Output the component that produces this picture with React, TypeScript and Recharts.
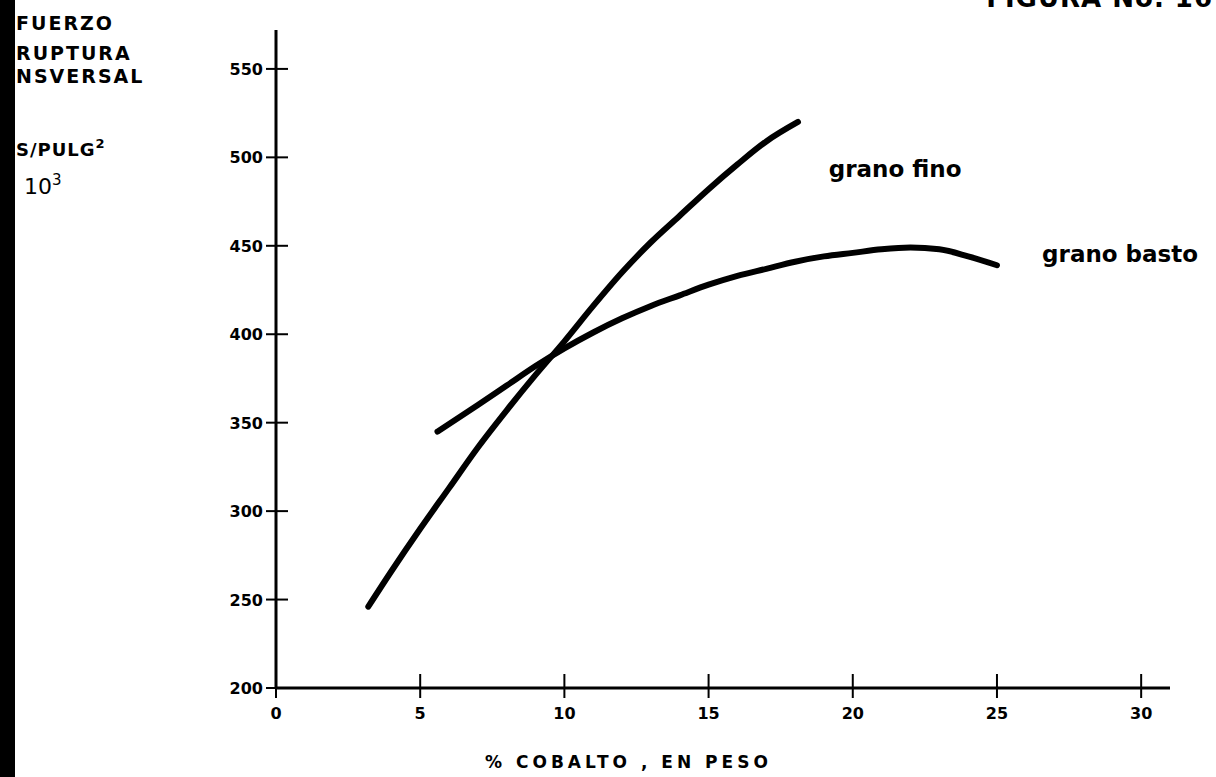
import { LineChart, Line, XAxis, YAxis, ReferenceDot } from 'recharts';

// curve points (x = % cobalto, y = esfuerzo x 10^3)
const finoX = [3.2, 4, 5, 6, 7, 8, 9, 10, 11, 12, 13, 14, 15, 16, 17, 18.1];
const finoY = [246, 266, 290, 313, 336, 357, 377, 396, 416, 435, 452, 467, 482, 496, 509, 520];

const bastoX = [5.6, 7, 8, 9, 10, 11, 12, 13, 14, 15, 16, 17, 18, 19, 20, 21, 22, 23, 24, 25];
const bastoY = [345, 360, 371, 382, 392, 401, 409, 416, 422, 428, 433, 437, 441, 444, 446, 448, 449, 448, 444, 439];

const xTicks = [0, 5, 10, 15, 20, 25, 30];
const yTicks = [200, 250, 300, 350, 400, 450, 500, 550];

const yTitle = ['FUERZO', 'RUPTURA', 'NSVERSAL'];

const fino = finoX.map((x, i) => ({ x, y: finoY[i] }));
const basto = bastoX.map((x, i) => ({ x, y: bastoY[i] }));

const font = '"DejaVu Sans", sans-serif';

function YTick({ x, y, payload }: any) {
  return (
    <g>
      <line x1={x - 10} x2={x + 12} y1={y} y2={y} stroke="#000" strokeWidth={2} />
      <text x={x - 13} y={y} dy={6} textAnchor="end" fontFamily={font} fontWeight="bold" fontSize={16} fill="#000">
        {payload.value}
      </text>
    </g>
  );
}

function XTick({ x, y, payload }: any) {
  return (
    <g>
      <line x1={x} x2={x} y1={y - 14} y2={y + 10} stroke="#000" strokeWidth={2} />
      <text x={x} y={y + 31} textAnchor="middle" fontFamily={font} fontWeight="bold" fontSize={16} fill="#000">
        {payload.value}
      </text>
    </g>
  );
}

function CurveLabel({ viewBox, text }: any) {
  return (
    <text x={viewBox.x} y={viewBox.y} fontFamily={font} fontWeight="bold" fontSize={23} fill="#000">
      {text}
    </text>
  );
}

export default function App() {
  return (
    <div style={{ position: 'absolute', left: 0, top: 0, width: 1216, height: 777, overflow: 'hidden', background: '#fff' }}>
      <LineChart
        width={1216}
        height={777}
        margin={{ top: 30, right: 46, left: 216, bottom: 59 }}
      >
        <XAxis
          type="number"
          dataKey="x"
          domain={[0, 31]}
          ticks={xTicks}
          allowDataOverflow
          height={30}
          tickSize={0}
          tickMargin={0}
          tickLine={false}
          axisLine={{ stroke: '#000', strokeWidth: 3 }}
          tick={<XTick />}
        />
        <YAxis
          type="number"
          dataKey="y"
          domain={[200, 572]}
          ticks={yTicks}
          allowDataOverflow
          width={60}
          tickSize={0}
          tickMargin={0}
          tickLine={false}
          axisLine={{ stroke: '#000', strokeWidth: 3 }}
          tick={<YTick />}
        />
        <Line
          data={fino}
          dataKey="y"
          type="monotone"
          stroke="#000"
          strokeWidth={6}
          strokeLinecap="round"
          dot={false}
          isAnimationActive={false}
        />
        <Line
          data={basto}
          dataKey="y"
          type="monotone"
          stroke="#000"
          strokeWidth={6}
          strokeLinecap="round"
          dot={false}
          isAnimationActive={false}
        />
        <ReferenceDot x={19.2} y={488.5} r={1} fill="none" stroke="none" label={<CurveLabel text="grano fino" />} />
        <ReferenceDot x={26.6} y={440} r={1} fill="none" stroke="none" label={<CurveLabel text="grano basto" />} />
      </LineChart>

      <svg width={1216} height={777} style={{ position: 'absolute', left: 0, top: 0, pointerEvents: 'none' }}>
        <rect x={0} y={0} width={15} height={777} fill="#000" />
        {yTitle.map((t, i) => (
          <text key={t} x={16} y={[30, 60, 83][i]} fontFamily={font} fontWeight="bold" fontSize={19} letterSpacing={2} fill="#000">
            {t}
          </text>
        ))}
        <text x={16} y={156} fontFamily={font} fontWeight="bold" fontSize={18} letterSpacing={1} fill="#000">
          S/PULG<tspan dy={-8} fontSize={13}>2</tspan>
        </text>
        <text x={24} y={194} fontFamily={font} fontSize={22} fill="#000">
          10<tspan dy={-9} fontSize={15}>3</tspan>
        </text>
        <text x={1213} y={7} textAnchor="end" fontFamily={font} fontWeight="bold" fontSize={26} letterSpacing={1} fill="#000">
          FIGURA No. 16
        </text>
        <text x={485} y={768} fontFamily={font} fontWeight="bold" fontSize={17} letterSpacing={4} fill="#000">
          % COBALTO , EN PESO
        </text>
      </svg>
    </div>
  );
}
